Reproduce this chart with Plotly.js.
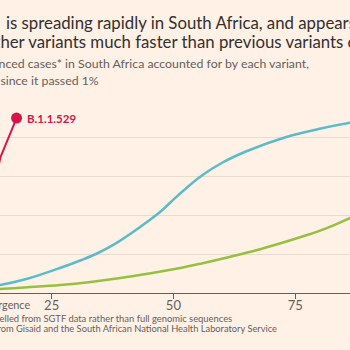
<!DOCTYPE html>
<html>
<head>
<meta charset="utf-8">
<script src="https://cdn.plot.ly/plotly-3.0.1.min.js"></script>
<style>html,body{margin:0;padding:0;background:#fff1e5;}#chart{width:350px;height:350px;}</style>
</head>
<body>
<div id="chart"></div>
<script>
// Days since the variant passed 1% of sequenced cases
const omicronDays = [0, 4, 8, 11, 14.5, 17.8];
const omicronShare = [1, 3, 10, 30, 69.7, 89.7];

const betaDays = [0, 5, 10, 14.4, 20, 26.7, 31, 34.1, 38, 42, 47, 51, 55.7, 60, 65, 73, 80, 86.3, 92, 100];
const betaShare = [1, 1.8, 2.8, 4.1, 7.3, 12.8, 16.8, 20, 25.2, 31.8, 41, 50.2, 60, 66.8, 72.7, 79.9, 84.2, 87.3, 89.3, 91.2];

const deltaDays = [0, 7, 14.4, 20, 26.7, 33, 39.1, 45, 51.4, 56, 61.7, 67, 72, 76, 80.1, 83, 86.3, 92, 100];
const deltaShare = [1, 1.5, 2, 2.9, 4.1, 5.7, 7.7, 10, 12.8, 15.3, 18.6, 21.9, 25.5, 28.6, 32, 34.8, 38.5, 44.5, 53];

const xTickVals = [0, 25, 50, 75, 100];
const xTickText = ['', '25', '50', '75', '100'];
const yTickVals = [0, 20, 40, 60, 80, 100];

const FONT = 'Lato, "Noto Sans", sans-serif';
const RED = '#d4144a', BLUE = '#5bbcc9', GREEN = '#95c13f';
const GREY = '#66605c', DARK = '#33302e';

const W = 350, T = 98, B = 293;
const px = v => v / W;
const py = v => (B - v) / (B - T);

const traces = [
  {x: deltaDays, y: deltaShare, mode: 'lines', line: {color: GREEN, width: 2.5, shape: 'spline', smoothing: 1}, hoverinfo: 'skip'},
  {x: betaDays, y: betaShare, mode: 'lines', line: {color: BLUE, width: 2.5, shape: 'spline', smoothing: 1}, hoverinfo: 'skip'},
  {x: omicronDays, y: omicronShare, mode: 'lines', line: {color: RED, width: 2}, hoverinfo: 'skip'},
  {x: [omicronDays[omicronDays.length - 1]], y: [omicronShare[omicronShare.length - 1]], mode: 'markers',
   marker: {color: RED, size: 11}, hoverinfo: 'skip'}
];

const ann = (text, x, y, xanchor, size, color, extra) => Object.assign({
  text, x: px(x), y: py(y), xref: 'paper', yref: 'paper', xanchor, yanchor: 'middle',
  showarrow: false, font: {family: FONT, size, color}
}, extra || {});

const layout = {
  width: 350, height: 350,
  margin: {l: 0, r: 0, t: T, b: 350 - B, pad: 0},
  paper_bgcolor: '#fff1e5', plot_bgcolor: '#fff1e5',
  showlegend: false,
  xaxis: {
    range: [14.4, 86.25], tickvals: xTickVals, ticktext: xTickText,
    showgrid: false, zeroline: false, showline: true, linecolor: GREY, linewidth: 1,
    ticks: 'outside', ticklen: 5, tickcolor: GREY, tickwidth: 1, ticklabelstandoff: -5,
    tickfont: {family: FONT, size: 13, color: GREY}
  },
  yaxis: {
    range: [0, 100], tickvals: yTickVals, showticklabels: false,
    showgrid: true, gridcolor: '#e9dbcf', gridwidth: 1, zeroline: false, showline: false
  },
  annotations: [
    ann('B.1.1.529', -2, 22, 'right', 16.8, DARK),
    ann('is spreading rapidly in South Africa, and appears to be outcompeting', 4, 22, 'left', 16.8, DARK),
    ann('other variants much faster than previous variants of concern', -17, 42, 'left', 16.8, DARK),
    ann('Share of sequenced cases* in South Africa accounted for by each variant,', 311, 64, 'right', 12.3, GREY),
    ann('by days since it passed 1%', 101, 80, 'right', 12.3, GREY),
    ann('B.1.1.529', 25, 118, 'left', 11.5, RED, {font: {family: FONT, size: 11.5, color: RED, weight: 'bold'}}),
    ann('Days since emergence', 32, 304, 'right', 10.8, GREY),
    ann('*B.1.1.529 modelled from SGTF data rather than full genomic sequences', 234, 318, 'right', 9.4, GREY),
    ann('Source: FT analysis of data from Gisaid and the South African National Health Laboratory Service', 279, 328, 'right', 9.3, GREY)
  ]
};

Plotly.newPlot('chart', traces, layout, {staticPlot: true, displayModeBar: false});
</script>
</body>
</html>
